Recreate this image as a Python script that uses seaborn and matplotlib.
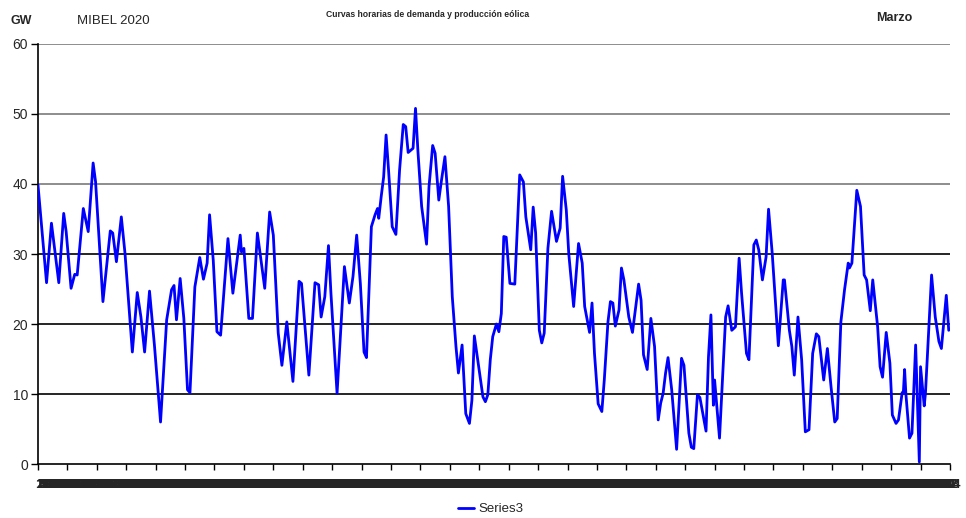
import matplotlib
matplotlib.use('Agg')
import matplotlib.pyplot as plt
import seaborn as sns
import pandas as pd

# hourly wind production, March 2020 (GW) - read at local peaks/troughs
hours = [0, 7, 11, 17, 21, 23, 27, 30, 32, 37, 41, 45, 47, 53, 59, 61, 64, 68, 71, 77,
         81, 84, 87, 91, 95, 100, 105, 109, 111, 113, 116, 119, 122, 124, 128, 132, 135, 138, 140, 143,
         146, 149, 155, 159, 165, 166, 168, 172, 175, 179, 185, 189, 192, 196, 199, 203, 208, 213, 215, 221,
         226, 229, 231, 234, 237, 239, 244, 250, 254, 257, 260, 263, 266, 268, 272, 275, 277, 278, 280, 282,
         284, 286, 289, 292, 295, 298, 300, 302, 306, 308, 310, 313, 317, 319, 322, 324, 327, 329, 332, 335,
         338, 341, 343, 346, 349, 352, 354, 356, 358, 363, 365, 367, 369, 371, 374, 376, 378, 380, 382, 385,
         389, 393, 396, 398, 402, 404, 406, 409, 411, 413, 416, 419, 423, 426, 428, 431, 433, 437, 441, 444,
         446, 450, 452, 454, 457, 460, 462, 465, 467, 469, 471, 474, 476, 478, 482, 485, 490, 492, 494, 497,
         500, 503, 506, 508, 510, 512, 514, 517, 521, 525, 527, 531, 533, 535, 538, 540, 545, 547, 549, 551,
         552, 556, 558, 561, 563, 566, 569, 572, 574, 578, 580, 584, 586, 588, 591, 594, 596, 599, 604, 608,
         609, 613, 615, 617, 620, 623, 626, 629, 632, 635, 637, 641, 644, 647, 650, 652, 655, 658, 661, 662,
         664, 668, 671, 674, 676, 679, 681, 685, 687, 689, 692, 695, 697, 700, 702, 705, 706, 707, 708, 711,
         713, 716, 719, 720, 723, 724, 729, 732, 735, 737, 741, 743]
gw = [39.9, 25.9, 34.4, 25.9, 35.8, 33.2, 25.1, 27.1, 27.0, 36.5, 33.2, 43.0, 40.3, 23.2, 33.3, 33.0, 28.9, 35.3, 30.1, 16.0,
      24.5, 21.0, 16.0, 24.7, 17.0, 6.0, 20.6, 24.9, 25.5, 20.6, 26.5, 20.8, 10.6, 10.2, 25.3, 29.5, 26.4, 28.7, 35.6, 29.1,
      18.9, 18.4, 32.2, 24.4, 32.7, 30.3, 30.8, 20.8, 20.8, 33.0, 25.1, 36.0, 32.7, 18.7, 14.1, 20.3, 11.8, 26.1, 25.8, 12.7,
      25.9, 25.6, 21.0, 23.9, 31.2, 24.4, 10.1, 28.2, 23.0, 26.8, 32.7, 25.8, 16.0, 15.2, 33.9, 35.6, 36.5, 35.1, 38.2, 41.0,
      47.0, 42.0, 33.9, 32.8, 42.0, 48.5, 48.2, 44.5, 45.1, 50.8, 44.6, 36.8, 31.4, 39.6, 45.5, 44.4, 37.7, 40.3, 43.9, 36.8,
      23.9, 16.8, 13.0, 17.0, 7.2, 5.8, 9.1, 18.3, 15.8, 9.6, 8.9, 9.9, 14.9, 18.2, 20.0, 18.9, 21.5, 32.5, 32.4, 25.8,
      25.7, 41.3, 40.3, 35.3, 30.6, 36.7, 33.0, 19.1, 17.3, 18.7, 30.8, 36.1, 31.8, 33.7, 41.1, 36.3, 30.1, 22.5, 31.5, 28.7,
      22.5, 18.8, 23.0, 15.8, 8.6, 7.5, 12.0, 20.3, 23.2, 23.0, 19.7, 22.0, 28.0, 26.3, 21.0, 18.8, 25.7, 23.4, 15.6, 13.5,
      20.8, 16.8, 6.3, 8.7, 10.1, 13.0, 15.2, 10.6, 2.1, 15.1, 14.1, 4.4, 2.4, 2.2, 9.9, 9.5, 4.7, 15.3, 21.3, 8.4,
      12.0, 3.7, 10.6, 21.0, 22.6, 19.1, 19.6, 29.4, 24.4, 15.8, 14.9, 31.3, 32.0, 30.6, 26.3, 29.6, 36.4, 30.1, 16.9, 26.3,
      26.3, 19.1, 16.8, 12.7, 21.0, 14.9, 4.6, 4.9, 15.8, 18.6, 18.2, 12.0, 16.5, 11.0, 6.0, 6.5, 20.3, 24.9, 28.7, 28.0,
      28.7, 39.1, 36.8, 27.0, 26.3, 21.9, 26.3, 19.6, 13.9, 12.4, 18.8, 14.4, 7.0, 5.8, 6.3, 10.2, 10.3, 13.5, 10.1, 3.7,
      4.4, 17.0, 0.3, 13.9, 8.3, 10.1, 27.0, 21.0, 17.5, 16.5, 24.1, 19.1]

y_ticks = [0, 10, 20, 30, 40, 50, 60]
hour_labels = [str(h) for h in range(1, 745)]

df = pd.DataFrame({'hour': hours, 'GW': gw})

sns.set_style('white')
plt.rcParams['font.family'] = ['Liberation Sans', 'DejaVu Sans']

fig = plt.figure(figsize=(9.66, 5.18), dpi=100)
ax = fig.add_axes([0.0393, 0.1042, 0.9441, 0.8109])

# grid lines (upper ones render grey in the original)
for v in y_ticks[1:]:
    ax.axhline(v, color='#7a7a7a' if v >= 40 else 'black', linewidth=1.2, zorder=1)

sns.lineplot(data=df, x='hour', y='GW', color='#0000ff', linewidth=2.0, label='Series3', ax=ax, zorder=3)

ax.set_xlim(0, 744)
ax.set_ylim(0, 60)
ax.set_yticks(y_ticks)
ax.set_yticklabels([str(v) for v in y_ticks], fontsize=10)
ax.set_xticks(range(0, 745, 24))
ax.set_xticklabels([])
# one label per hour: they pile up into the dark band seen in the original
ax.set_xticks([h + 0.5 for h in range(744)], minor=True)
ax.set_xticklabels(hour_labels, minor=True, fontsize=9.5, fontweight='bold')
ax.tick_params(axis='x', which='minor', length=0, pad=11)
ax.tick_params(axis='x', which='major', length=4, width=1, direction='out', color='black', bottom=True)
ax.tick_params(axis='y', length=5, width=1, direction='out', color='black', left=True, pad=2)
ax.set_xlabel('')
ax.set_ylabel('')
for s in ['top', 'right']:
    ax.spines[s].set_visible(False)
for s in ['left', 'bottom']:
    ax.spines[s].set_color('black')
    ax.spines[s].set_linewidth(1.2)

ax.get_legend().remove()
fig.legend(handles=ax.get_lines()[-1:], labels=['Series3'], loc='center',
           bbox_to_anchor=(0.508, 0.017), frameon=False, fontsize=9.5,
           handlelength=1.2, handletextpad=0.4)

fig.text(0.011, 0.96, 'GW', fontsize=9, fontweight='bold', va='center')
fig.text(0.08, 0.96, 'MIBEL 2020', fontsize=9.5, va='center')
fig.text(0.443, 0.972, 'Curvas horarias de demanda y producción eólica', fontsize=6.2,
         fontweight='bold', ha='center', va='center')
fig.text(0.926, 0.965, 'Marzo', fontsize=9, fontweight='bold', ha='center', va='center')

fig.savefig('out.png', dpi=100)
